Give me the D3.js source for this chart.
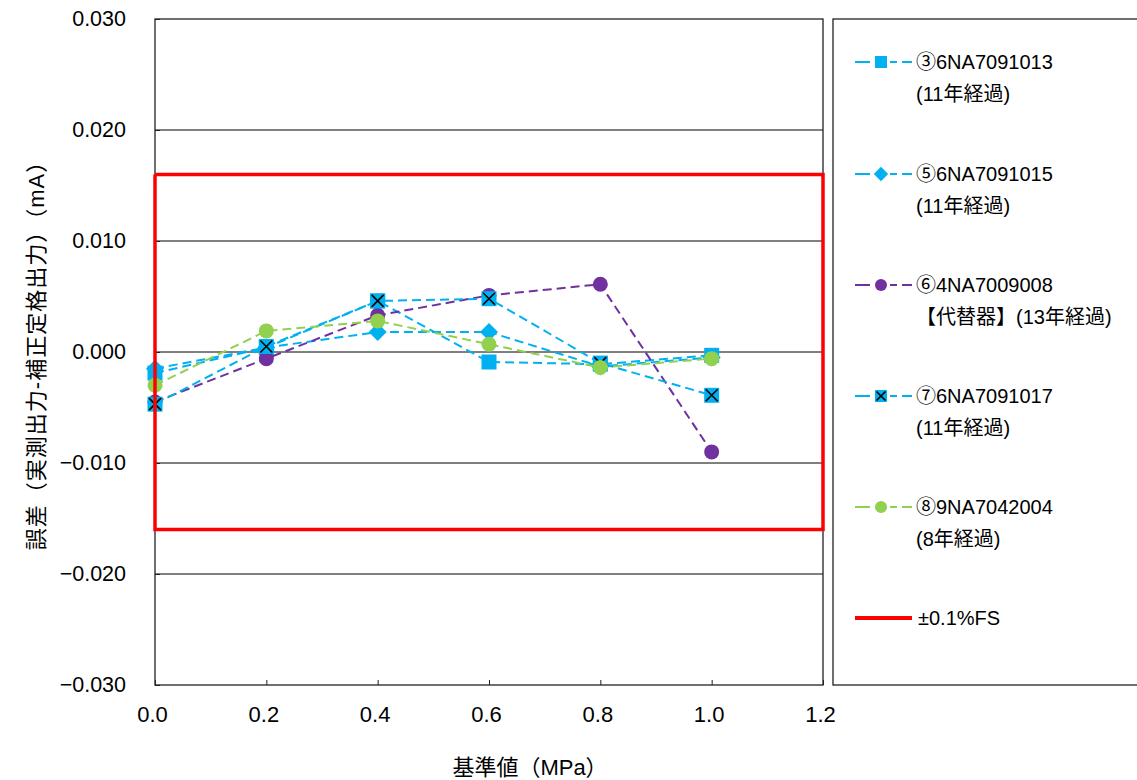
<!DOCTYPE html>
<html><head><meta charset="utf-8">
<script src="https://cdn.jsdelivr.net/npm/d3@7"></script>
<style>
html,body{margin:0;padding:0;background:#fff;}
text{font-family:"Liberation Sans","Noto Sans CJK JP",sans-serif;fill:#000;}
</style></head>
<body>
<svg id="chart" width="1137" height="780"></svg>
<script>
const xValues = [0.0, 0.2, 0.4, 0.6, 0.8, 1.0];
const s3 = [-0.0019, 0.0004, 0.0046, -0.0009, -0.0011, -0.0003];
const s5 = [-0.0015, 0.0004, 0.0018, 0.0018, -0.0013, -0.0005];
const s6 = [-0.0045, -0.0006, 0.0033, 0.0051, 0.0061, -0.0090];
const s7 = [-0.0047, 0.0005, 0.0046, 0.0048, -0.0010, -0.0039];
const s8 = [-0.0030, 0.0019, 0.0028, 0.0007, -0.0014, -0.0006];
const fsX = [0.0, 1.2, 1.2, 0.0, 0.0];
const fsY = [0.016, 0.016, -0.016, -0.016, 0.016];
const xTicks = [0.0, 0.2, 0.4, 0.6, 0.8, 1.0, 1.2];
const yTicks = [-0.03, -0.02, -0.01, 0.0, 0.01, 0.02, 0.03];
const seriesNames = [
  ["③6NA7091013", "(11年経過)"],
  ["⑤6NA7091015", "(11年経過)"],
  ["⑥4NA7009008", "【代替器】(13年経過)"],
  ["⑦6NA7091017", "(11年経過)"],
  ["⑧9NA7042004", "(8年経過)"]
];
const fsName = "±0.1%FS";
const xTitle = "基準値（MPa）";
const yTitle = "誤差（実測出力-補正定格出力）（mA）";

const series = [
  {vals: s3, color: "#00B0F0", marker: "square"},
  {vals: s5, color: "#00B0F0", marker: "diamond"},
  {vals: s6, color: "#7030A0", marker: "circle"},
  {vals: s7, color: "#00B0F0", marker: "xsquare"},
  {vals: s8, color: "#92D050", marker: "circle"}
];

const svg = d3.select("#chart");
const L = 155, R = 823, T = 19, B = 685;
const x = d3.scaleLinear().domain([0, 1.2]).range([L, R]);
const y = d3.scaleLinear().domain([-0.03, 0.03]).range([B, T]);

// gridlines
svg.append("g").selectAll("line").data(yTicks.filter(d => d > -0.03 && d < 0.03)).join("line")
  .attr("x1", L).attr("x2", R).attr("y1", d => y(d)).attr("y2", d => y(d))
  .attr("stroke", "#000").attr("stroke-width", 1);

// frame
svg.append("rect").attr("x", L).attr("y", T).attr("width", R - L).attr("height", B - T)
  .attr("fill", "none").attr("stroke", "#222").attr("stroke-width", 1.3);

// axes
const xAxis = d3.axisBottom(x).tickValues(xTicks).tickSize(-5).tickPadding(0).tickFormat(d3.format(".1f"));
const gx = svg.append("g").attr("transform", `translate(0,${B})`).call(xAxis);
gx.select(".domain").remove();
gx.selectAll("line").attr("stroke", "#222");
gx.selectAll("text").attr("font-size", 22).attr("x", -3).attr("y", 37).attr("dy", null);

const yAxis = d3.axisLeft(y).tickValues(yTicks).tickSize(-5).tickPadding(0)
  .tickFormat(d => (d < 0 ? "\u2212" : "") + d3.format(".3f")(Math.abs(d)));
const gy = svg.append("g").attr("transform", `translate(${L},0)`).call(yAxis);
gy.select(".domain").remove();
gy.selectAll("line").attr("stroke", "#222");
gy.selectAll("text").attr("font-size", 21.5).attr("x", -29);

// titles
svg.append("text").attr("x", 530).attr("y", 775).attr("text-anchor", "middle")
  .attr("font-size", 22).attr("font-family", "'Noto Sans CJK JP',sans-serif").text(xTitle);
svg.append("text").attr("transform", "translate(36,350) rotate(-90)").attr("text-anchor", "middle")
  .attr("dominant-baseline", "central").attr("letter-spacing", 1)
  .attr("font-size", 22).attr("font-family", "'Noto Sans CJK JP',sans-serif").text(yTitle);

function drawMarker(g, type, cx, cy, color, s) {
  if (type === "square" || type === "xsquare") {
    g.append("rect").attr("x", cx - s / 2).attr("y", cy - s / 2).attr("width", s).attr("height", s).attr("fill", color);
    if (type === "xsquare") {
      const h = s / 2 - 1.5;
      g.append("path").attr("d", `M${cx - h},${cy - h}L${cx + h},${cy + h}M${cx + h},${cy - h}L${cx - h},${cy + h}`)
        .attr("stroke", "#000").attr("stroke-width", 1.6);
    }
  } else if (type === "diamond") {
    const h = s * 0.6;
    g.append("path").attr("d", `M${cx},${cy - h}L${cx + h},${cy}L${cx},${cy + h}L${cx - h},${cy}Z`).attr("fill", color);
  } else {
    g.append("circle").attr("cx", cx).attr("cy", cy).attr("r", s / 2).attr("fill", color);
  }
}

const line = d3.line().x(d => x(d[0])).y(d => y(d[1]));
series.forEach(s => {
  const pts = xValues.map((v, i) => [v, s.vals[i]]);
  const g = svg.append("g");
  g.append("path").attr("d", line(pts)).attr("fill", "none").attr("stroke", s.color)
    .attr("stroke-width", 2).attr("stroke-dasharray", "9,5");
  pts.forEach(p => drawMarker(g, s.marker, x(p[0]), y(p[1]), s.color, 15));
});

// ±0.1%FS
svg.append("path").attr("d", line(fsX.map((v, i) => [v, fsY[i]]))).attr("fill", "none")
  .attr("stroke", "#FF0000").attr("stroke-width", 3.5);

// legend
svg.append("rect").attr("x", 833).attr("y", T).attr("width", 320).attr("height", B - T)
  .attr("fill", "none").attr("stroke", "#222").attr("stroke-width", 1.3);
const legY = [62, 174, 285, 396, 507];
series.forEach((s, i) => {
  const g = svg.append("g");
  const yy = legY[i];
  g.append("line").attr("x1", 855).attr("x2", 912).attr("y1", yy).attr("y2", yy)
    .attr("stroke", s.color).attr("stroke-width", 2).attr("stroke-dasharray", "15,8,7,5,7,5");
  drawMarker(g, s.marker, 881, yy, s.color, 12);
  g.append("text").attr("x", 916).attr("y", yy + 7).attr("font-size", 20).text(seriesNames[i][0]);
  g.append("text").attr("x", 916).attr("y", yy + 39).attr("font-size", 20).text(seriesNames[i][1]);
});
svg.append("line").attr("x1", 855).attr("x2", 912).attr("y1", 618).attr("y2", 618)
  .attr("stroke", "#FF0000").attr("stroke-width", 4);
svg.append("text").attr("x", 918).attr("y", 625).attr("font-size", 20).text(fsName);
</script>
</body></html>
